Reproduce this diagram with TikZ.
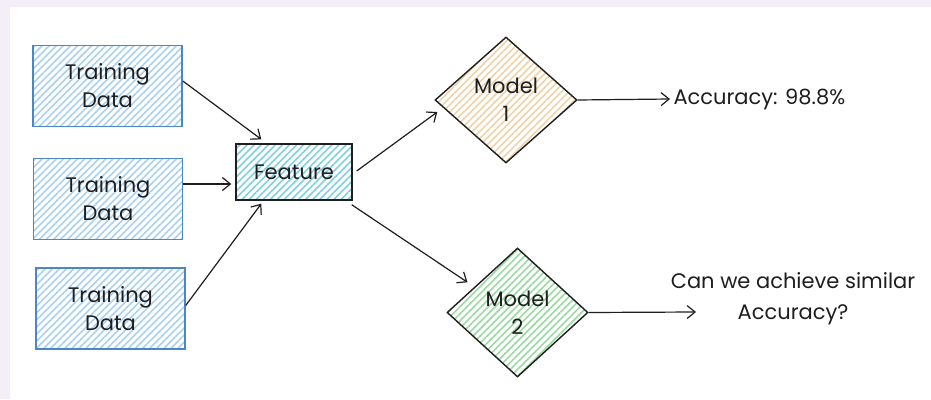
\documentclass[tikz,border=0pt]{standalone}
\usepackage{fontspec}
\setmainfont{Poppins}
\usetikzlibrary{shapes.geometric,arrows.meta,patterns.meta}
\definecolor{lav}{HTML}{F3EEF8}
\definecolor{tdstroke}{HTML}{4A86C8}
\definecolor{tdhatch}{HTML}{A9D2F2}
\definecolor{fthatch}{HTML}{7FD0E0}
\definecolor{m1hatch}{HTML}{EFD3A6}
\definecolor{m2hatch}{HTML}{9ADBA2}
\definecolor{ink}{HTML}{1E1E1E}
\tikzset{
  lbl/.style={font=\fontsize{21}{28}\selectfont, text=ink, align=center},
  hatchlines/.style={pattern={Lines[angle=45,distance=5pt,line width=1.6pt]}, pattern color=#1},
  tdbox/.style={rectangle, draw=tdstroke, line width=1.4pt, minimum width=149pt, minimum height=81pt, inner sep=0pt,
    hatchlines=tdhatch, lbl},
  ftbox/.style={rectangle, draw=ink, line width=1.4pt, minimum width=116pt, minimum height=56pt, inner sep=0pt,
    hatchlines=fthatch, lbl},
  mdl/.style={diamond, draw=ink, line width=1.4pt, inner sep=0pt, lbl},
  arr/.style={draw=ink, line width=1.2pt, -{Straight Barb[length=8pt,width=13pt,line width=1.2pt]}},
}
\begin{document}
\begin{tikzpicture}[x=1pt,y=-1pt]
\fill[lav] (0,0) rectangle (931,399);
\fill[white] (10,7) rectangle (931,399);
\useasboundingbox (0,0) rectangle (931,399);

\node[tdbox] (td1) at (107.5,86) {Training\\Data};
\node[tdbox] (td2) at (108,199) {Training\\Data};
\node[tdbox] (td3) at (110.5,308.5) {Training\\Data};
\node[ftbox] (ft) at (294,172) {Feature};
\node[mdl, minimum width=142pt, minimum height=126pt, hatchlines=m1hatch] (m1) at (506,100) {Model\\1};
\node[mdl, minimum width=141pt, minimum height=129pt, hatchlines=m2hatch] (m2) at (517.5,312.5) {Model\\2};

\node[lbl, anchor=west] (acc) at (670,99) {Accuracy: 98.8\%};
\node[lbl, font=\fontsize{21}{31}\selectfont] (q) at (793,299) {Can we achieve similar\\Accuracy?};

\coordinate (e1) at (696,312);

\draw[arr] ([yshift=5pt]td1.east) -- ([xshift=26pt,yshift=4pt]ft.north west);
\draw[arr] ([yshift=15pt]td2.east) -- ([xshift=-4pt,yshift=-12pt]ft.west);
\draw[arr] ([yshift=3pt]td3.east) -- ([xshift=26pt,yshift=-3pt]ft.south west);
\draw[arr] ([xshift=4pt,yshift=1pt]ft.east) -- ([xshift=3pt,yshift=-12pt]m1.west);
\draw[arr] ([xshift=-1pt,yshift=-4pt]ft.south east) -- ([xshift=-50pt,yshift=-35pt]m2.north);
\draw[arr] (m1.east) -- (acc.west);
\draw[arr] (m2.east) -- (e1);
\end{tikzpicture}
\end{document}
